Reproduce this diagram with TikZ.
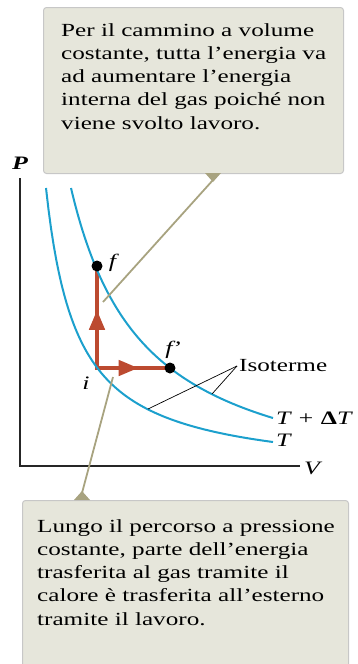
\documentclass[tikz,border=0pt]{standalone}
\usepackage{fontspec}
\setmainfont{Liberation Serif}[FakeStretch=1.36]
\usepackage{tikz}
\usetikzlibrary{positioning, arrows.meta, decorations.markings, backgrounds}
\definecolor{isoblue}{RGB}{28,160,205}
\definecolor{pathred}{RGB}{188,74,48}
\definecolor{notefill}{RGB}{230,230,219}
\definecolor{leadcol}{RGB}{168,163,128}

\begin{document}
\begin{tikzpicture}[x=1pt, y=-1pt,
  font=\fontsize{18.5}{23.3}\selectfont,
  axis/.style={line width=1.3pt, black!85},
  iso/.style={isoblue, line width=2pt},
  route/.style={pathred, line width=4.5pt, line cap=rect, postaction={decorate},
    decoration={markings, mark=at position 0.57 with {\arrow{Triangle[length=20pt, width=15pt]}}}},
  state/.style={circle, fill=black, inner sep=0pt, minimum size=11pt},
  notebox/.style={draw=black!22, fill=notefill, rounded corners=3pt, line width=1pt},
  notetext/.style={align=left, inner sep=0pt},
  lead/.style={leadcol, line width=1.8pt},
  hint/.style={black, line width=0.7pt},
  sym/.style={font=\fontsize{19}{23}\selectfont\itshape, inner sep=2pt}
]
  \clip (0,0) rectangle (358,664);

  % boxes with the two remarks
  \node[notebox, anchor=north west, minimum width=300pt, minimum height=166pt] (topbox) at (43,7) {};
  \node[notetext, anchor=north west] (toptext) at (61,23)
    {Per il cammino a volume\\costante, tutta l’energia va\\ad aumentare l’energia\\interna del gas poiché non\\viene svolto lavoro.};
  \node[notebox, anchor=north west, minimum width=326pt, minimum height=190pt] (botbox) at (22,500) {};
  \node[notetext, anchor=north west] (bottext) at (37,519)
    {Lungo il percorso a pressione\\costante, parte dell’energia\\trasferita al gas tramite il\\calore è trasferita all’esterno\\tramite il lavoro.};

  % axes
  \coordinate (ptop) at (20,178);
  \coordinate (origin) at (20,466);
  \coordinate (vend) at (300,466);
  \draw[axis] (ptop) -- (origin) -- (vend);
  \node[sym, font=\fontsize{19}{23}\selectfont\bfseries\itshape] (plabel) at (20,163) {P};
  \node[sym, anchor=west] (vlabel) at (302,468) {V};

  % isotherms
  \draw[iso] plot[domain=71:273, samples=90] (\x, {466 - (230.88/(\x+2.58)*100 - 35.8)});
  \draw[iso] plot[domain=46:273, samples=90] (\x, {466 - (89.5/(\x-15)*100 - 10.7)});
  \node[sym, anchor=west] (tdlabel) at (274,418) {T + {\upshape\bfseries Δ}T};
  \node[sym, anchor=west] (tlabel) at (274,440) {T};

  % states and the two paths
  \coordinate (i) at (97,368);
  \node[state] (f) at (97,266) {};
  \node[state] (fp) at (170,368) {};
  \begin{scope}[on background layer]
    \draw[route] (i) -- (f.center);
    \draw[route] (i) -- (fp.center);
  \end{scope}
  \node[sym, right=4pt of f, yshift=3pt] (flabel) {f};
  \node[sym, above=2pt of fp, xshift=3pt] (fplabel) {f\kern-0.5pt’};
  \node[sym] (ilabel) at (86,383) {i};

  % Isoterme
  \node[anchor=west, inner sep=2pt] (isolabel) at (237,366) {Isoterme};
  \coordinate (lowhit) at (148,409);
  \coordinate (uphit) at (212,394);
  \draw[hint] (isolabel.west) -- (lowhit);
  \draw[hint] (isolabel.west) -- (uphit);

  % pointers of the boxes
  \coordinate (topjoin) at (213,173);
  \coordinate (topfoot) at (213,180);
  \coordinate (topend) at (103,302);
  \fill[leadcol] (topjoin) ++(-8,0) -- ++(16,0) -- ++(-8,9) -- cycle;
  \draw[lead] (topfoot) -- (topend);
  \coordinate (botjoin) at (82,500);
  \coordinate (botfoot) at (82,493);
  \coordinate (botend) at (113,377);
  \fill[leadcol] (botjoin) ++(-8,0) -- ++(16,0) -- ++(-8,-9) -- cycle;
  \draw[lead] (botfoot) -- (botend);
\end{tikzpicture}
\end{document}
